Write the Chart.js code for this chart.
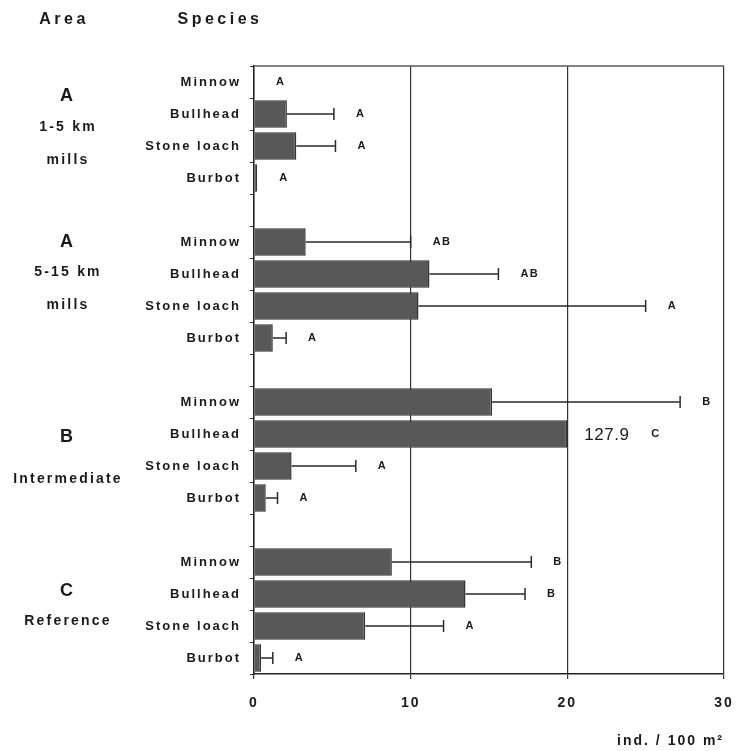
<!DOCTYPE html>
<html>
<head>
<meta charset="utf-8">
<script src="https://cdn.jsdelivr.net/npm/chart.js@4/dist/chart.umd.min.js"></script>
<style>
  html, body { margin: 0; padding: 0; background: #fff; }
  #wrap { width: 737px; height: 751px; }
</style>
</head>
<body>
<div id="wrap"><canvas id="chart"></canvas></div>
<script>
// Fish density by area and species
const species = ['Minnow', 'Bullhead', 'Stone loach', 'Burbot'];
const areaCodes = ['A', 'A', 'B', 'C'];
const areaNames = [['1-5 km', 'mills'], ['5-15 km', 'mills'], ['Intermediate'], ['Reference']];

// mean density, ind. / 100 m²
const densA1 = [0, 2.1, 2.7, 0.2];
const densA2 = [3.3, 11.2, 10.5, 1.2];
const densB  = [15.2, 127.9, 2.4, 0.75];
const densC  = [8.8, 13.5, 7.1, 0.45];

// upper end of the error bar (null: none)
const upperA1 = [null, 5.1, 5.2, null];
const upperA2 = [10.0, 15.6, 25.0, 2.05];
const upperB  = [27.2, null, 6.5, 1.5];
const upperC  = [17.7, 17.3, 12.1, 1.2];

// homogeneous groups
const sigA1 = ['A', 'A', 'A', 'A'];
const sigA2 = ['AB', 'AB', 'A', 'A'];
const sigB  = ['B', 'C', 'A', 'A'];
const sigC  = ['B', 'B', 'A', 'A'];

const xTicks = [0, 10, 20, 30];
const X_MAX = 30;
const BREAK_AT = 20;   // bars beyond the axis are cut here and labelled with their value

// row positions (category units) of the area captions
const areaRowPos = [[0.44, 1.41, 2.44], [5.0, 5.95, 6.97], [11.1, 12.4], [15.9, 16.85]];

const FONT = "'Liberation Sans', Arial, sans-serif";

// one category row per bar, an empty row between areas
const dens = [densA1, densA2, densB, densC];
const uppers = [upperA1, upperA2, upperB, upperC];
const sigs = [sigA1, sigA2, sigB, sigC];
const rowLabels = [], rowValue = [], rowUpper = [], rowSig = [];
dens.forEach((g, gi) => {
  if (gi > 0) { rowLabels.push(''); rowValue.push(null); rowUpper.push(null); rowSig.push(null); }
  species.forEach((s, si) => {
    rowLabels.push(s);
    rowValue.push(g[si]);
    rowUpper.push(uppers[gi][si]);
    rowSig.push(sigs[gi][si]);
  });
});
const rowDrawn = rowValue.map(v => (v == null ? null : (v > X_MAX ? BREAK_AT : v)));

const overlay = {
  id: 'overlay',
  beforeDraw(chart) {
    chart.ctx.letterSpacing = '2px';
  },
  afterDatasetsDraw(chart) {
    const { ctx, scales: { x, y } } = chart;
    ctx.save();
    // error bars
    ctx.strokeStyle = '#2a2a2a';
    ctx.lineWidth = 1.5;
    rowUpper.forEach((u, i) => {
      if (u == null) return;
      const py = y.getPixelForValue(i);
      const x0 = x.getPixelForValue(rowDrawn[i]);
      const x1 = x.getPixelForValue(u);
      ctx.beginPath();
      ctx.moveTo(x0, py); ctx.lineTo(x1, py);
      ctx.moveTo(x1, py - 6); ctx.lineTo(x1, py + 6);
      ctx.stroke();
    });
    // value of cut bars, then group letters
    ctx.textBaseline = 'middle';
    ctx.textAlign = 'left';
    ctx.fillStyle = '#1a1a1a';
    rowValue.forEach((v, i) => {
      if (v == null) return;
      const py = y.getPixelForValue(i);
      let lx;
      if (v > X_MAX) {
        ctx.letterSpacing = '0.5px';
        ctx.font = '17px ' + FONT;
        const tx = x.getPixelForValue(rowDrawn[i]) + 17;
        const txt = String(v);
        ctx.fillText(txt, tx, py + 1);
        lx = tx + ctx.measureText(txt).width + 22;
      } else {
        const end = rowUpper[i] != null ? rowUpper[i] : v;
        lx = x.getPixelForValue(end) + 22;
      }
      ctx.letterSpacing = '1.5px';
      ctx.font = 'bold 11px ' + FONT;
      ctx.fillText(rowSig[i], lx, py);
    });
    ctx.restore();
  },
  afterDraw(chart) {
    const { ctx, chartArea: a, scales: { y } } = chart;
    ctx.save();
    // top frame line
    ctx.strokeStyle = '#5a5a5a';
    ctx.lineWidth = 1.5;
    ctx.beginPath();
    ctx.moveTo(a.left, a.top); ctx.lineTo(a.right, a.top);
    ctx.stroke();
    // column headers
    ctx.fillStyle = '#1a1a1a';
    ctx.textAlign = 'center';
    ctx.textBaseline = 'middle';
    ctx.letterSpacing = '3.5px';
    ctx.font = 'bold 16px ' + FONT;
    ctx.fillText('Area', 64, 20);
    ctx.fillText('Species', 220, 20);
    // area captions
    areaCodes.forEach((code, gi) => {
      const pos = areaRowPos[gi];
      ctx.letterSpacing = '1px';
      ctx.font = 'bold 18px ' + FONT;
      ctx.fillText(code, 67, y.getPixelForValue(pos[0]));
      ctx.letterSpacing = '2.2px';
      ctx.font = 'bold 14px ' + FONT;
      areaNames[gi].forEach((t, k) => {
        ctx.fillText(t, 68, y.getPixelForValue(pos[k + 1]));
      });
    });
    ctx.restore();
  }
};

new Chart(document.getElementById('chart'), {
  type: 'bar',
  data: {
    labels: rowLabels,
    datasets: [{
      data: rowDrawn,
      backgroundColor: '#585858',
      borderColor: '#333333',
      borderWidth: 1.5,
      barPercentage: 0.86,
      categoryPercentage: 1.0
    }]
  },
  options: {
    indexAxis: 'y',
    responsive: true,
    maintainAspectRatio: false,
    animation: false,
    layout: { padding: { top: 66, right: 0, left: 0, bottom: 0 } },
    plugins: { legend: { display: false }, tooltip: { enabled: false } },
    scales: {
      y: {
        type: 'category',
        grid: { display: true, drawOnChartArea: false, offset: true, tickLength: 4, color: '#333', lineWidth: 1 },
        border: { display: true, color: '#222', width: 1.5 },
        ticks: {
          autoSkip: false,
          padding: 9,
          color: '#1a1a1a',
          font: { family: FONT, size: 13, weight: 'bold' }
        },
        afterFit(s) { s.width = 254; }
      },
      x: {
        type: 'linear',
        min: xTicks[0],
        max: xTicks[xTicks.length - 1],
        afterBuildTicks(s) { s.ticks = xTicks.map(v => ({ value: v })); },
        grid: { color: '#333', lineWidth: 1.2, tickLength: 5 },
        border: { display: true, color: '#222', width: 1.5 },
        ticks: {
          padding: 16,
          color: '#1a1a1a',
          font: { family: FONT, size: 14, weight: 'bold' }
        },
        title: {
          display: true,
          text: 'ind. / 100 m²',
          align: 'end',
          color: '#1a1a1a',
          font: { family: FONT, size: 14, weight: 'bold' },
          padding: { top: 0, bottom: 1 }
        },
        afterFit(s) {
          s.height = 77;
          s.paddingLeft = 0;
          s.paddingRight = 13;
        }
      }
    }
  },
  plugins: [overlay]
});
</script>
</body>
</html>
